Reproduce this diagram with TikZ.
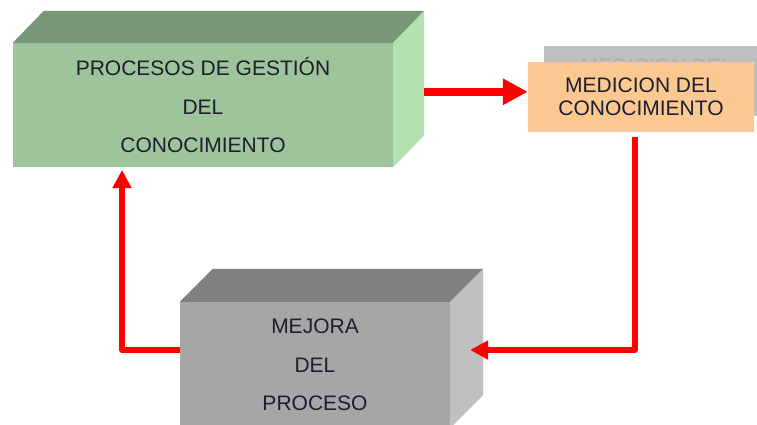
\documentclass[tikz,border=0pt]{standalone}
\usepackage{fontspec}
\setmainfont{Liberation Sans}
\usetikzlibrary{arrows.meta,calc}
\definecolor{gFront}{HTML}{9DC49A}
\definecolor{gTop}{HTML}{779777}
\definecolor{gSide}{HTML}{B1E2B0}
\definecolor{oFill}{HTML}{FCC892}
\definecolor{shadowFill}{HTML}{BFBFBF}
\definecolor{pFront}{HTML}{A6A6A6}
\definecolor{pTop}{HTML}{808080}
\definecolor{pSide}{HTML}{C0C0C0}
\definecolor{txt}{HTML}{1E1E2E}
\definecolor{arrRed}{HTML}{FF0000}
\tikzset{
  face/.style={draw=none, inner sep=0pt, align=center, text=txt},
  bigtext/.style={font=\fontsize{21}{38.5}\selectfont},
  smalltext/.style={font=\fontsize{21}{23}\selectfont},
  redarrow/.style={draw=arrRed, line width=5.5pt, line join=round,
    -{Triangle[length=18pt,width=18pt]}},
  thickarrow/.style={draw=arrRed, line width=7.5pt,
    -{Triangle[length=25pt,width=25pt]}}
}
\begin{document}
\begin{tikzpicture}[x=1pt,y=-1pt]
\useasboundingbox (0,0) rectangle (757,424);
\clip (0,0) rectangle (757,424);
\fill[white] (0,0) rectangle (757,424);

% green 3D box
\node[face, bigtext, fill=gFront, minimum width=380pt, minimum height=124pt]
  (green) at (203,105) {PROCESOS DE GESTIÓN\\DEL\\CONOCIMIENTO};
\fill[gTop] (green.north west) -- ++(31,-32) -- ($(green.north east)+(31,-32)$) -- (green.north east) -- cycle;
\fill[gSide] (green.north east) -- ++(31,-32) -- ($(green.south east)+(31,-32)$) -- (green.south east) -- cycle;
\coordinate (gR) at ($(green.north east)+(31,49)$);

% shadow behind measurement box
\node[face, fill=shadowFill, minimum width=226pt, minimum height=70pt, anchor=north west,
  text=gray!55, smalltext, text depth=0pt] (shadow) at (544,46) {};
\node[text=gray!62, font=\fontsize{21}{23}\selectfont, inner sep=0pt] (shadowtext) at (657,66) {MEDICION DEL};

% orange box
\node[face, smalltext, fill=oFill, minimum width=226pt, minimum height=70pt]
  (orange) at (641,97) {MEDICION DEL\\CONOCIMIENTO};

% gray 3D box
\node[face, bigtext, fill=pFront, minimum width=270pt, minimum height=126pt]
  (gray) at (315,365) {MEJORA\\DEL\\PROCESO};
\fill[pTop] (gray.north west) -- ++(33,-33) -- ($(gray.north east)+(33,-33)$) -- (gray.north east) -- cycle;
\fill[pSide] (gray.north east) -- ++(33,-33) -- ($(gray.south east)+(33,-33)$) -- (gray.south east) -- cycle;

% connectors
\coordinate (m1) at ($(orange.south)+(-6,5)$);
\coordinate (pR) at (470,350);
\coordinate (pL) at (gray.west |- pR);
\coordinate (c1) at (122,350);
\coordinate (gB) at (122,170);

\draw[thickarrow] (gR) -- (gR -| orange.west);
\draw[redarrow] (m1) |- (pR);
\draw[redarrow] (pL) -- (c1) -- (gB);
\end{tikzpicture}
\end{document}
